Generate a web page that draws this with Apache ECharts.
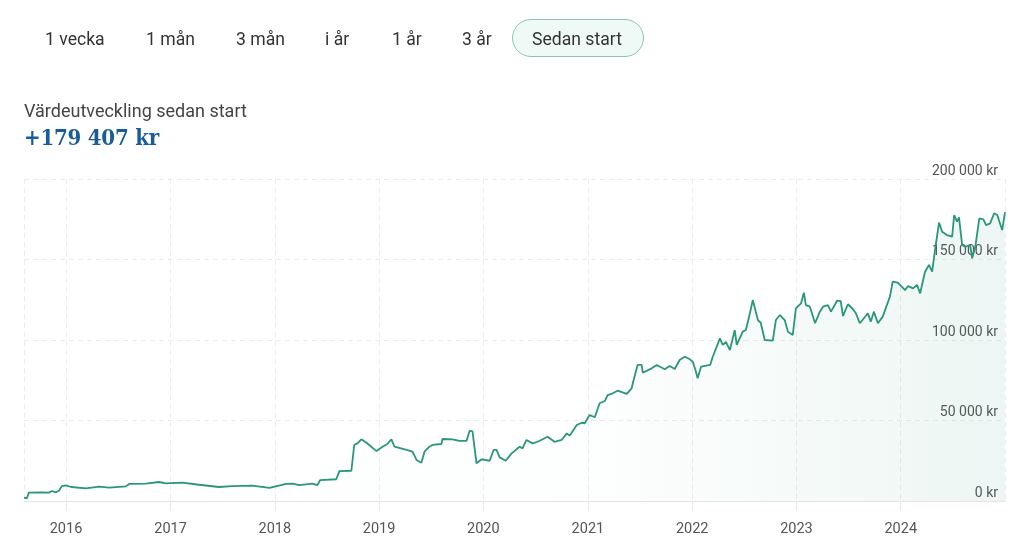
<!DOCTYPE html>
<html><head><meta charset="utf-8">
<script src="https://cdn.jsdelivr.net/npm/echarts@6/dist/echarts.min.js"></script>
<style>
html,body{margin:0;padding:0;background:#fff;width:1024px;height:542px;overflow:hidden;font-family:Roboto,"Noto Sans",sans-serif;}
#chart{position:absolute;left:0;top:0;width:1024px;height:542px;}
.btn{position:absolute;top:28px;font-size:17.6px;line-height:22px;color:#333;white-space:nowrap;}
.pill{position:absolute;left:512px;top:19px;width:130px;height:36px;border:1px solid #86c9b0;background:#effaf6;border-radius:19px;}
#sub{position:absolute;left:24px;top:100px;font-size:18px;line-height:22px;color:#444;}
#big{position:absolute;left:24px;top:123px;font-size:22px;line-height:28px;color:#1a5c98;font-weight:bold;font-family:"DejaVu Serif Condensed","DejaVu Serif",serif;font-stretch:condensed;letter-spacing:-0.2px;}
</style></head>
<body>
<div id="chart"></div>
<div class="pill"></div>
<div id="buttons"></div>
<div id="sub">Värdeutveckling sedan start</div>
<div id="big">+179 407 kr</div>
<script>
const periodLabels = ['1 vecka','1 mån','3 mån','i år','1 år','3 år','Sedan start'];
const periodX = [45,146,236,325,392,462,532];
const yTicks = [0,50000,100000,150000,200000];

const dates = [
'2015-08-07','2015-08-17','2015-08-24','2015-10-09','2015-11-02','2015-11-13','2015-11-27','2015-12-07','2015-12-18',
'2016-01-01','2016-01-19','2016-03-11','2016-04-26','2016-05-31','2016-07-29','2016-08-09','2016-10-07','2016-11-22','2016-12-16',
'2017-02-11','2017-04-11','2017-06-20','2017-08-05','2017-10-14','2017-12-13',
'2018-02-10','2018-03-03','2018-03-28','2018-05-12','2018-05-30','2018-06-09','2018-08-04','2018-08-15','2018-09-26','2018-10-06','2018-10-17','2018-10-31','2018-11-18','2018-12-23',
'2019-01-13','2019-01-30','2019-02-13','2019-02-24','2019-04-07','2019-04-28','2019-05-12','2019-05-29','2019-06-09','2019-06-26','2019-07-07','2019-08-07','2019-08-11','2019-09-15','2019-10-09','2019-11-03','2019-11-14','2019-11-24','2019-12-08','2019-12-26',
'2020-01-23','2020-02-06','2020-02-16','2020-02-27','2020-03-19','2020-04-09','2020-05-07','2020-05-17','2020-05-31','2020-06-21','2020-07-09','2020-08-13','2020-09-06','2020-10-01','2020-10-19','2020-10-29','2020-11-23','2020-12-10','2020-12-21',
'2021-01-07','2021-01-25','2021-02-11','2021-03-01','2021-03-11','2021-03-29','2021-04-15','2021-05-17','2021-06-03','2021-06-10','2021-06-24','2021-07-08','2021-07-12','2021-08-12','2021-08-30','2021-09-27','2021-10-14','2021-11-01','2021-11-18','2021-12-06','2021-12-24',
'2022-01-03','2022-01-13','2022-01-20','2022-02-01','2022-03-05','2022-03-14','2022-04-08','2022-04-18','2022-04-29','2022-05-13','2022-05-30','2022-06-06','2022-06-27','2022-07-08','2022-07-22','2022-08-01','2022-08-19','2022-08-29','2022-09-12','2022-10-10','2022-10-21','2022-11-04','2022-11-21','2022-12-02','2022-12-19','2022-12-30',
'2023-01-17','2023-01-27','2023-02-03','2023-02-17','2023-03-07','2023-03-24','2023-04-04','2023-04-21','2023-05-02','2023-05-23','2023-06-05','2023-06-13','2023-06-30','2023-07-18','2023-07-28','2023-08-11','2023-09-08','2023-09-18','2023-09-29','2023-10-13','2023-10-30','2023-11-24','2023-12-04','2023-12-22',
'2024-01-16','2024-01-27','2024-02-13','2024-02-27','2024-03-09','2024-03-26','2024-04-09','2024-04-20','2024-04-30','2024-05-14','2024-05-25','2024-06-11','2024-06-29','2024-07-06','2024-07-16','2024-07-23','2024-08-03','2024-08-13','2024-08-31','2024-09-07','2024-09-18','2024-10-02','2024-10-16','2024-10-26','2024-11-09','2024-11-23','2024-12-04','2024-12-21','2024-12-31'
];
const values = [
2050,1700,5200,5400,5200,6200,5400,6400,9300,
9700,8700,7900,8900,8300,9100,10600,10800,11800,11000,
11400,10100,8700,9300,9500,8100,
10600,10800,9900,10800,9900,13000,13500,18600,18800,34800,35800,38300,36200,31000,
33700,35400,38300,33700,31700,30600,25500,23800,30600,33700,34800,35400,38500,38300,37300,37300,43700,43300,23400,25900,
25000,31700,31700,27100,25000,29600,33700,32700,37900,35800,36800,39900,36800,37900,42000,40600,47200,48600,48300,
53400,52000,60700,62100,65800,66900,68500,66500,70000,75200,84500,84500,79700,82400,84500,81800,83800,82000,87600,89600,88000,
86500,81000,76200,83400,84500,89600,101000,96900,98900,93800,106200,96900,105200,106200,116600,124800,112400,110700,100000,99600,112400,115500,112400,105200,103100,119700,
122800,129400,121700,120700,110400,117600,120700,121700,117600,124400,124200,114900,122200,119100,116600,110400,116600,111400,117600,110400,114500,126900,136200,135600,
131000,133500,132100,134200,129000,142400,146600,142400,155900,172900,167300,165200,164200,177600,173500,176200,159000,157900,159000,150700,157900,175600,175000,171400,172400,178700,177600,168300,179400
];

const btns = document.getElementById('buttons');
periodLabels.forEach((t,i)=>{
  const s = document.createElement('span');
  s.className='btn'; s.style.left = periodX[i]+'px'; s.textContent = t;
  btns.appendChild(s);
});

const fmt = v => String(v).replace(/\B(?=(\d{3})+(?!\d))/g,' ') + ' kr';
const data = dates.map((d,i)=>[d, values[i]]);
const YEAR = 365*24*3600*1000;

const chart = echarts.init(document.getElementById('chart'), null, {renderer:'canvas'});
chart.setOption({
  animation:false,
  backgroundColor:'#ffffff',
  grid:{left:24,right:19,top:179,bottom:41,containLabel:false},
  xAxis:{
    type:'time',
    min:'2015-08-07', max:'2024-12-31',
    minInterval:YEAR, maxInterval:YEAR+2*24*3600*1000,
    axisLine:{show:true,lineStyle:{color:'#e4e4e4',width:1}},
    axisTick:{show:true,length:10,lineStyle:{color:'#e8e8e8'}},
    splitLine:{show:true,lineStyle:{color:'#ececec',type:[5,4]}},
    axisLabel:{color:'#555',fontSize:14.5,margin:21,fontFamily:'Roboto',
      formatter:v=>String(new Date(v).getFullYear()), showMinLabel:false, showMaxLabel:false}
  },
  yAxis:{
    type:'value', position:'right', min:yTicks[0], max:yTicks[yTicks.length-1], interval:50000,
    axisLine:{show:false}, axisTick:{show:false},
    splitLine:{show:true,lineStyle:{color:'#ececec',type:[5,4]}},
    axisLabel:{inside:true,color:'#555',fontSize:14,fontFamily:'Roboto',margin:7,
      verticalAlign:'bottom',padding:[0,0,1,0],formatter:v=>fmt(v)}
  },
  series:[{
    type:'line', data:data, showSymbol:false, symbol:'none',
    lineStyle:{color:'#2a967a',width:1.8},
    areaStyle:{color:new echarts.graphic.LinearGradient(0,0,1,0,[
      {offset:0,color:'rgba(42,152,123,0)'},
      {offset:0.6,color:'rgba(42,152,123,0.015)'},
      {offset:1,color:'rgba(42,152,123,0.12)'}
    ])},
    z:3
  }]
});
</script>
</body></html>
